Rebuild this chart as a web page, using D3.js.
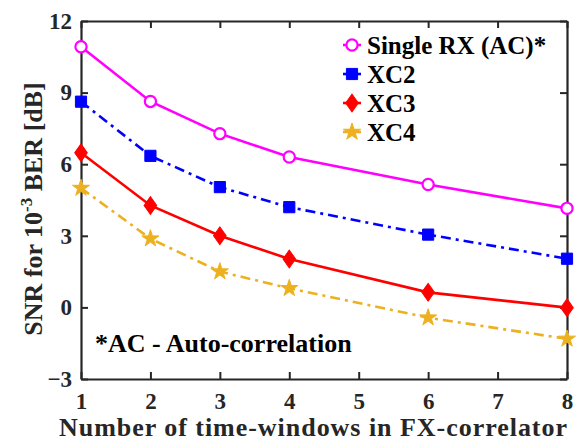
<!DOCTYPE html>
<html>
<head>
<meta charset="utf-8">
<script src="https://cdn.jsdelivr.net/npm/d3@7"></script>
<style>
  body { margin: 0; background: #fff; }
</style>
</head>
<body>
<svg id="chart" width="578" height="441"></svg>
<script>
// data
const windows = [1, 2, 3, 4, 6, 8]
const singleRx = [10.92, 8.63, 7.28, 6.3, 5.15, 4.15]
const xc2 = [8.62, 6.35, 5.04, 4.2, 3.05, 2.04]
const xc3 = [6.48, 4.27, 3.0, 2.03, 0.63, -0.01]
const xc4 = [5.0, 2.88, 1.5, 0.8, -0.43, -1.32]
const xTicks = [1, 2, 3, 4, 5, 6, 7, 8]
const yTicks = [-3, 0, 3, 6, 9, 12]

const series = [
  { name: "Single RX (AC)*", values: singleRx, color: "#ff00ff", dash: null, marker: "circle" },
  { name: "XC2", values: xc2, color: "#0000ff", dash: "10,5,3,5", marker: "square" },
  { name: "XC3", values: xc3, color: "#ff0000", dash: null, marker: "diamond" },
  { name: "XC4", values: xc4, color: "#edb120", dash: "10,5,3,5", marker: "star" }
]

const FONT = "'Liberation Serif', 'Times New Roman', serif"
const margin = { top: 21, right: 11, bottom: 62, left: 81 }
const W = 578, H = 441
const width = W - margin.left - margin.right
const height = H - margin.top - margin.bottom

const svg = d3.select("#chart")
const g = svg.append("g").attr("transform", `translate(${margin.left},${margin.top})`)

const x = d3.scaleLinear().domain([1, 8]).range([0, width])
const y = d3.scaleLinear().domain([-3, 12]).range([height, 0])

const axisColor = "#262626"

// axes, ticks inward on all four sides
const axBottom = g.append("g").attr("transform", `translate(0,${height})`)
  .call(d3.axisBottom(x).tickValues(xTicks).tickFormat(d3.format("d"))
    .tickSizeInner(-7).tickSizeOuter(0).tickPadding(14))
const axTop = g.append("g")
  .call(d3.axisTop(x).tickValues(xTicks).tickSizeInner(-7).tickSizeOuter(0).tickFormat(""))
const axLeft = g.append("g")
  .call(d3.axisLeft(y).tickValues(yTicks).tickFormat(d3.format("d"))
    .tickSizeInner(-7).tickSizeOuter(0).tickPadding(9))
const axRight = g.append("g").attr("transform", `translate(${width},0)`)
  .call(d3.axisRight(y).tickValues(yTicks).tickSizeInner(-7).tickSizeOuter(0).tickFormat(""))

for (const ax of [axBottom, axTop, axLeft, axRight]) {
  ax.attr("font-family", null)
  ax.select(".domain").attr("stroke", axisColor).attr("stroke-width", 2.2)
  ax.selectAll(".tick line").attr("stroke", axisColor).attr("stroke-width", 2)
  ax.selectAll(".tick text")
    .style("font-family", FONT).style("font-weight", "bold").style("font-size", "23px")
    .attr("fill", axisColor)
}

// lines and markers
const line = d3.line().x((d, i) => x(windows[i])).y(d => y(d))

const symbolFor = {
  square: d3.symbol().type(d3.symbolSquare).size(125),
  diamond: d3.symbol().type(d3.symbolDiamond2).size(140),
  star: d3.symbol().type(d3.symbolStar).size(90)
}

function drawMarker(sel, s) {
  if (s.marker === "circle") {
    sel.append("circle").attr("r", 5.6).attr("fill", "#fff")
      .attr("stroke", s.color).attr("stroke-width", 2.2)
  } else {
    const p = sel.append("path").attr("d", symbolFor[s.marker]()).attr("fill", s.color)
      .attr("stroke", s.color).attr("stroke-width", 1)
    if (s.marker === "diamond") p.attr("transform", "scale(0.85,1.2)")
  }
}

for (const s of series) {
  g.append("path").datum(s.values)
    .attr("d", line)
    .attr("fill", "none")
    .attr("stroke", s.color)
    .attr("stroke-width", 2.6)
    .attr("stroke-dasharray", s.dash)

  s.values.forEach((v, i) => {
    const m = g.append("g").attr("transform", `translate(${x(windows[i])},${y(v)})`)
    drawMarker(m, s)
  })
}

function label(sel, size) {
  return sel.style("font-family", FONT).style("font-weight", "bold").style("font-size", size + "px")
}

// legend
const legend = g.append("g").attr("transform", `translate(${262},${24})`)
series.forEach((s, i) => {
  const row = legend.append("g").attr("transform", `translate(0,${i * 29})`)
  row.append("line").attr("x1", 0).attr("x2", 18).attr("y1", 0).attr("y2", 0)
    .attr("stroke", s.color).attr("stroke-width", 2.6)
  const m = row.append("g").attr("transform", "translate(9,0)")
  drawMarker(m, s)
  label(row.append("text").attr("x", 24).attr("y", 9).attr("fill", "#000"), 25).text(s.name)
})

// annotation
label(g.append("text").attr("x", 14).attr("y", 331).attr("fill", "#000"), 26)
  .text("*AC - Auto-correlation")

// axis titles
label(svg.append("text").attr("x", 313).attr("y", 436)
  .attr("text-anchor", "middle").attr("fill", axisColor)
  .attr("textLength", 508).attr("lengthAdjust", "spacing"), 26)
  .text("Number of time-windows in FX-correlator")

const yl = label(svg.append("text")
  .attr("transform", `translate(42,209) rotate(-90)`)
  .attr("text-anchor", "middle").attr("fill", axisColor), 26)
yl.append("tspan").text("SNR for 10")
yl.append("tspan").style("font-size", "17px").attr("dy", -10).text("-3")
yl.append("tspan").attr("dy", 10).text(" BER [dB]")
</script>
</body>
</html>
